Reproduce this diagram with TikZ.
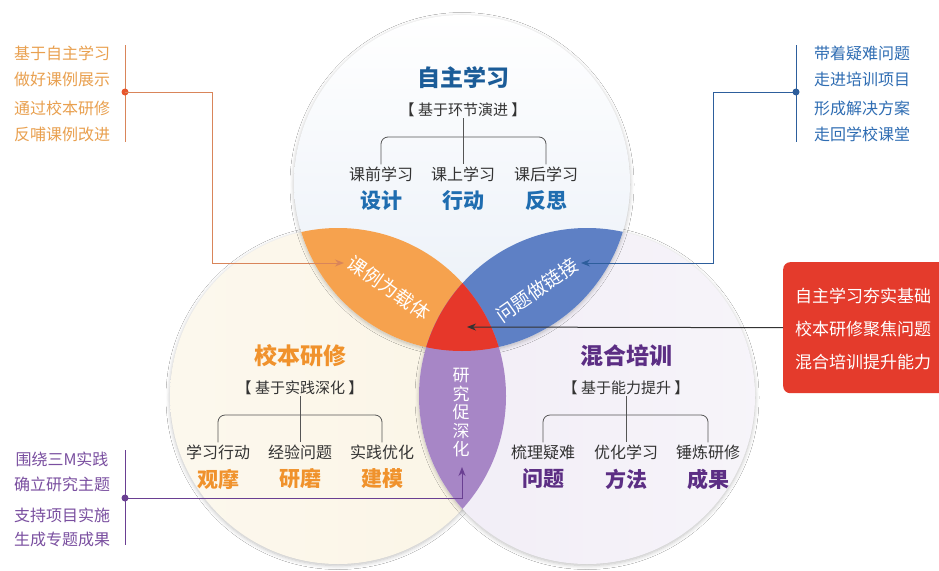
\documentclass[tikz,border=0pt]{standalone}
\usepackage{fontspec}
\setmainfont{Noto Sans CJK SC}
\usetikzlibrary{arrows.meta,shadows.blur}
\definecolor{topfill}{HTML}{E9EFF7}
\definecolor{leftfill}{HTML}{FBF5E6}
\definecolor{rightfill}{HTML}{F1EDF6}
\definecolor{lensorange}{HTML}{F6A24E}
\definecolor{lensblue}{HTML}{5E80C5}
\definecolor{lenspurple}{HTML}{A786C6}
\definecolor{lensred}{HTML}{E6372A}
\definecolor{boxred}{HTML}{E43B2C}
\definecolor{titleblue}{HTML}{1B5C98}
\definecolor{wordblue}{HTML}{1F6DB0}
\definecolor{titleorange}{HTML}{F0922C}
\definecolor{titlepurple}{HTML}{5C2E84}
\definecolor{graytext}{HTML}{333333}
\definecolor{annorange}{HTML}{E9A04F}
\definecolor{lineorange}{HTML}{D9855A}
\definecolor{dotorange}{HTML}{E8562C}
\definecolor{annblue}{HTML}{2F6DB3}
\definecolor{lineblue}{HTML}{2D5E9C}
\definecolor{annpurple}{HTML}{7A4FA0}
\definecolor{linepurple}{HTML}{6A3F92}
\definecolor{treegray}{HTML}{555555}
\begin{document}
\begin{tikzpicture}[x=1pt,y=-1pt,
  circ/.style={blur shadow={shadow blur steps=6, shadow xshift=0pt, shadow yshift=-1.5pt, shadow opacity=25, shadow blur radius=4pt}},
  titlet/.style={font=\bfseries\fontsize{23}{25}\selectfont, inner sep=1pt},
  subt/.style={font=\fontsize{15}{17}\selectfont, text=graytext, inner sep=1pt},
  leaf/.style={font=\fontsize{16}{18}\selectfont, text=graytext, inner sep=2pt},
  bigw/.style={font=\bfseries\fontsize{21}{23}\selectfont, inner sep=1pt},
  tree/.style={draw=treegray, line width=0.8pt},
  lenst/.style={font=\fontsize{19}{21}\selectfont, text=white, inner sep=0pt},
  ann/.style={font=\fontsize{16}{18}\selectfont, inner sep=0pt},
  boxt/.style={font=\fontsize{17}{19}\selectfont, text=white, inner sep=0pt},
  dotn/.style={circle, inner sep=0pt, minimum size=7pt},
  tip/.style={-{Stealth[length=9pt,width=7pt]}}
]
\useasboundingbox (0,0) rectangle (939,570);
\fill[white] (0,0) rectangle (939,570);
\def\R{168pt}
\coordinate (T) at (462,183);
\coordinate (L) at (338,396);
\coordinate (Rc) at (587,396);

% circles
\path[circ, left color=leftfill!70!white, right color=leftfill] (L) circle[radius=\R];
\path[circ, left color=rightfill, right color=rightfill!60!white] (Rc) circle[radius=\R];
\path[circ, top color=white, bottom color=topfill] (T) circle[radius=\R];

% lenses
\begin{scope}
  \clip (T) circle[radius=\R];
  \fill[lensorange] (L) circle[radius=\R];
  \fill[lensblue] (Rc) circle[radius=\R];
\end{scope}
\begin{scope}
  \clip (L) circle[radius=\R];
  \fill[lenspurple] (Rc) circle[radius=\R];
\end{scope}
\begin{scope}
  \clip (T) circle[radius=\R];
  \clip (L) circle[radius=\R];
  \fill[lensred] (Rc) circle[radius=\R];
\end{scope}

% lens labels
\node[lenst, rotate=-35] (lo) at (389,288) {课例为载体};
\node[lenst, rotate=35] (lb) at (537,290) {问题做链接};
\node[lenst, font=\fontsize{17}{18.5}\selectfont, align=center] (lp) at (461,413) {研\\究\\促\\深\\化};

% top circle content
\node[titlet, text=titleblue] (tt) at (463,78) {自主学习};
\node[subt] (ts) at (463,110) {【 基于环节演进 】};
\node[leaf] (t1) at (381,174) {课前学习};
\node[leaf] (t2) at (463,174) {课上学习};
\node[leaf] (t3) at (546,174) {课后学习};
\node[bigw, text=wordblue] (tw1) at (381,201) {设计};
\node[bigw, text=wordblue] (tw2) at (463,201) {行动};
\node[bigw, text=wordblue] (tw3) at (546,201) {反思};
\draw[tree, rounded corners=7pt] (t1.north) -- (t1.north |- 0,137) -- (t3.north |- 0,137) -- (t3.north);
\draw[tree] (ts.south) -- (t2.north);

% left circle content
\node[titlet, text=titleorange] (lt) at (300,356) {校本研修};
\node[subt] (ls) at (300,388) {【 基于实践深化 】};
\node[leaf] (l1) at (218,452) {学习行动};
\node[leaf] (l2) at (300,452) {经验问题};
\node[leaf] (l3) at (382,452) {实践优化};
\node[bigw, text=titleorange] (lw1) at (218,479) {观摩};
\node[bigw, text=titleorange] (lw2) at (300,479) {研磨};
\node[bigw, text=titleorange] (lw3) at (382,479) {建模};
\draw[tree, rounded corners=7pt] (l1.north) -- (l1.north |- 0,415) -- (l3.north |- 0,415) -- (l3.north);
\draw[tree] (ls.south) -- (l2.north);

% right circle content
\node[titlet, text=titlepurple] (rt) at (626,356) {混合培训};
\node[subt] (rs) at (626,388) {【 基于能力提升 】};
\node[leaf] (r1) at (543,452) {梳理疑难};
\node[leaf] (r2) at (626,452) {优化学习};
\node[leaf] (r3) at (708,452) {锤炼研修};
\node[bigw, text=titlepurple] (rw1) at (543,479) {问题};
\node[bigw, text=titlepurple] (rw2) at (626,479) {方法};
\node[bigw, text=titlepurple] (rw3) at (708,479) {成果};
\draw[tree, rounded corners=7pt] (r1.north) -- (r1.north |- 0,415) -- (r3.north |- 0,415) -- (r3.north);
\draw[tree] (rs.south) -- (r2.north);

% top-left annotation
\node[ann, text=annorange] (a1) at (62,53) {基于自主学习};
\node[ann, text=annorange] (a2) at (62,79) {做好课例展示};
\node[ann, text=annorange] (a3) at (62,108) {通过校本研修};
\node[ann, text=annorange] (a4) at (62,134) {反哺课例改进};
\coordinate (la1) at (125,45);
\coordinate (la2) at (125,142);
\draw[lineorange, line width=1pt] (la1) -- (la2);
\node[dotn, fill=dotorange] (d1) at (125,92) {};
\coordinate (e1) at (344,263);
\draw[lineorange, line width=1pt, tip] (d1.center) -| (212,263) -- (e1);

% top-right annotation
\node[ann, text=annblue] (b1) at (862,53) {带着疑难问题};
\node[ann, text=annblue] (b2) at (862,79) {走进培训项目};
\node[ann, text=annblue] (b3) at (862,108) {形成解决方案};
\node[ann, text=annblue] (b4) at (862,134) {走回学校课堂};
\coordinate (lb1) at (796,45);
\coordinate (lb2) at (796,142);
\draw[lineblue, line width=1pt] (lb1) -- (lb2);
\node[dotn, fill=lineblue] (d2) at (796,92) {};
\coordinate (e2) at (581,263);
\draw[lineblue, line width=1pt, tip] (d2.center) -| (713,263) -- (e2);

% bottom-left annotation
\node[ann, text=annpurple] (c1) at (62,459) {围绕三M实践};
\node[ann, text=annpurple] (c2) at (62,484) {确立研究主题};
\node[ann, text=annpurple] (c3) at (62,515) {支持项目实施};
\node[ann, text=annpurple] (c4) at (62,539) {生成专题成果};
\coordinate (lc1) at (125,450);
\coordinate (lc2) at (125,545);
\draw[linepurple, line width=1pt] (lc1) -- (lc2);
\node[dotn, fill=linepurple] (d3) at (125,498) {};
\coordinate (e3) at (462,467);
\draw[linepurple, line width=1pt, tip] (d3.center) -| (e3);

% red box
\begin{scope}
  \clip (0,0) rectangle (939,570);
  \node[fill=boxred, rounded corners=7pt, minimum width=175pt, minimum height=131pt, anchor=north west, inner sep=0pt] (rb) at (783,262) {};
\end{scope}
\node[boxt] (x1) at (863,296) {自主学习夯实基础};
\node[boxt] (x2) at (863,329) {校本研修聚焦问题};
\node[boxt] (x3) at (863,362) {混合培训提升能力};
\coordinate (e4) at (467,327);
\draw[graytext, line width=1pt, tip] (rb.west) -- (e4);
\end{tikzpicture}
\end{document}
